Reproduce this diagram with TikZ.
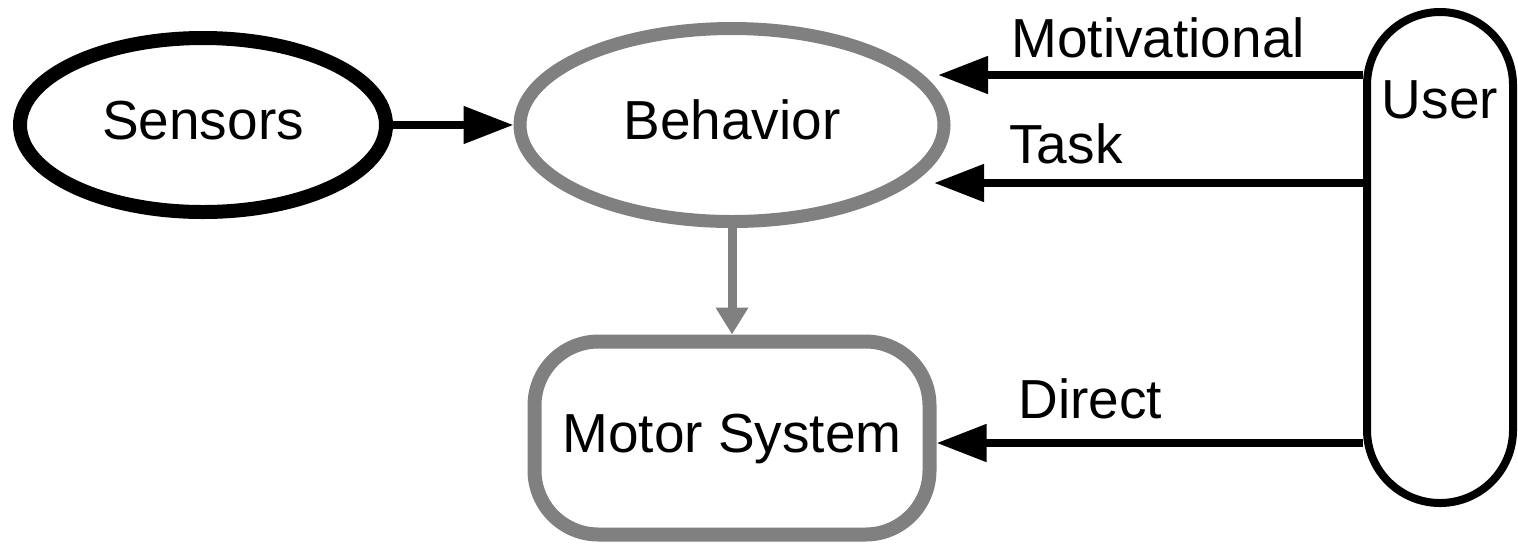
\documentclass[tikz,border=0pt]{standalone}
\usepackage{fontspec}
\setmainfont{Liberation Sans}
\usetikzlibrary{shapes.geometric, arrows.meta}
\definecolor{dim}{RGB}{128, 128, 128}

\begin{document}
\begin{tikzpicture}[x=0.5pt, y=-0.5pt,
  every node/.style={inner sep=0pt, font=\fontsize{27.5}{33}\selectfont},
  box/.style={text height=20pt, text depth=5.8pt},
  sensor/.style={box, ellipse, draw, line width=7pt, minimum width=183pt, minimum height=87pt},
  behave/.style={box, ellipse, draw=dim, line width=6.5pt, minimum width=212pt, minimum height=96.5pt},
  motor/.style={box, rectangle, rounded corners=32pt, draw=dim, line width=7pt, minimum width=197.5pt, minimum height=96.5pt},
  user/.style={rectangle, rounded corners=36.5pt, draw, line width=4pt, minimum width=73pt, minimum height=245.5pt},
  sig/.style={line width=4pt, -{Triangle[length=25pt, width=18pt]}},
  feed/.style={dim, line width=4.5pt, -{Triangle[length=13.5pt, width=15.5pt]}}]

  \useasboundingbox (0, 0) rectangle (1518, 543);

  \node[sensor] (sensors) at (203, 125) {Sensors};
  \node[behave] (behavior) at (732, 125) {Behavior};
  \node[motor] (motor) at (732, 438) {Motor System};

  \node[user] (user) at (1440, 257.5) {};
  \node[anchor=base] (userlbl) at ([yshift=-55pt]user.north) {User};

  \coordinate (motfrom) at (user.west |- 0, 75);
  \coordinate (motto) at (938, 75);
  \coordinate (taskfrom) at (user.west |- 0, 183);
  \coordinate (taskto) at (934, 183);
  \coordinate (dirfrom) at (user.west |- 0, 443);

  \draw[sig] (sensors) -- (behavior);
  \draw[feed] (behavior) -- (motor);

  \draw[sig] (motfrom) -- (motto);
  \draw[sig] (taskfrom) -- (taskto);
  \draw[sig] (dirfrom) -- (dirfrom -| motor.east);

  \node[anchor=base west] (motlbl) at (1011, 57) {Motivational};
  \node[anchor=base west] (tasklbl) at (1009, 163) {Task};
  \node[anchor=base west] (dirlbl) at (1018, 418) {Direct};

\end{tikzpicture}
\end{document}
